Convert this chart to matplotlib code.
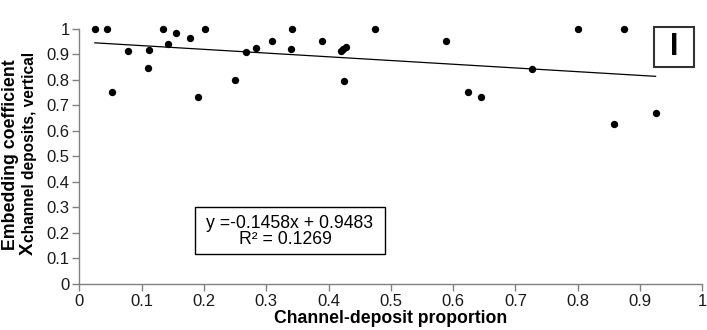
import matplotlib
matplotlib.use("Agg")
import matplotlib.pyplot as plt
from matplotlib.patches import Rectangle
import numpy as np

plt.rcParams['font.family'] = ['Liberation Sans', 'DejaVu Sans']

# channel-deposit proportion vs embedding coefficient
xs = [0.025, 0.045, 0.052, 0.078, 0.112, 0.111, 0.135, 0.143, 0.155, 0.178,
      0.190, 0.202, 0.250, 0.268, 0.283, 0.310, 0.341, 0.340, 0.390, 0.420,
      0.423, 0.428, 0.425, 0.475, 0.589, 0.624, 0.644, 0.726, 0.800, 0.874,
      0.858, 0.925]
ys = [1.0, 1.0, 0.751, 0.914, 0.918, 0.846, 1.0, 0.941, 0.983, 0.962,
      0.731, 1.0, 0.800, 0.909, 0.923, 0.953, 1.0, 0.920, 0.952, 0.913,
      0.920, 0.928, 0.794, 1.0, 0.953, 0.751, 0.734, 0.842, 1.0, 1.0,
      0.626, 0.668]
slope, intercept = -0.1458, 0.9483
r2 = 0.1269
panel = 'I'
ticks = [0, 0.1, 0.2, 0.3, 0.4, 0.5, 0.6, 0.7, 0.8, 0.9, 1]
tick_labels = ['0', '0.1', '0.2', '0.3', '0.4', '0.5', '0.6', '0.7', '0.8', '0.9', '1']

W, H = 707, 330
fig = plt.figure(figsize=(W / 100, H / 100), dpi=100)
ax = fig.add_axes([79.3 / W, (H - 284) / H, 623 / W, 255.3 / H])

ax.scatter(xs, ys, s=28, color='black', zorder=3, clip_on=False, linewidths=0)
lx = np.array([min(xs), max(xs)])
ax.plot(lx, slope * lx + intercept, color='black', lw=0.9)

ax.set_xlim(0, 1)
ax.set_ylim(0, 1)
ax.set_xticks(ticks)
ax.set_xticklabels(tick_labels)
ax.set_yticks(ticks)
ax.set_yticklabels(tick_labels)
for s in ['top', 'right']:
    ax.spines[s].set_visible(False)
for s in ['left', 'bottom']:
    ax.spines[s].set_color('#808080')
    ax.spines[s].set_linewidth(1.0)
ax.tick_params(direction='out', length=5, width=1, color='#808080',
               labelsize=12, labelcolor='#1a1a1a', pad=2)

ax.set_xlabel('Channel-deposit proportion', fontsize=12.7, fontweight='bold', labelpad=1)

# y label: two lines, second one with subscript
fig.text(15 / W, (H - 154.5) / H, 'Embedding coefficient', rotation=90,
         rotation_mode='anchor', ha='center', va='baseline',
         fontsize=12.8, fontweight='bold')
tx = fig.text(33 / W, (H - 255) / H, 'X', rotation=90, rotation_mode='anchor',
              ha='left', va='baseline', fontsize=13.4, fontweight='bold')
r = fig.canvas.get_renderer()
bb = tx.get_window_extent(r)
fig.text(34 / W, (bb.y1 + 0.5) / H, 'channel deposits, vertical', rotation=90,
         rotation_mode='anchor', ha='left', va='baseline',
         fontsize=11.2, fontweight='bold')

# regression equation box
ax.add_patch(Rectangle((0.186, 0.1175), 0.304, 0.1855, fill=False,
                       ec='black', lw=1.0, zorder=4))
ax.text(0.337, 0.219, 'y =%.4fx + %.4f' % (slope, intercept), fontsize=12.7,
        ha='center', va='baseline')
ax.text(0.331, 0.157, 'R² = %.4f' % r2, fontsize=12.7, ha='center', va='baseline')

# panel letter
ax.add_patch(Rectangle((0.922, 0.850), 0.065, 0.157, fill=True, fc='white',
                       ec='#333333', lw=1.5, clip_on=False, zorder=4))
ax.text(0.955, 0.927, panel, fontsize=22, fontweight='bold', ha='center',
        va='center', zorder=5)

fig.savefig('out.png', dpi=100)
